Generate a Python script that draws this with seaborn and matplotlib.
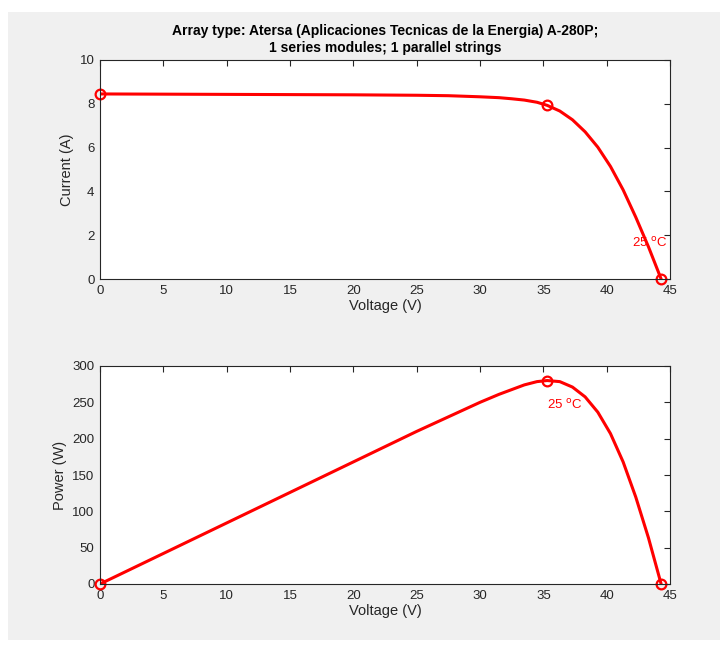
import matplotlib
matplotlib.use("Agg")
import matplotlib.pyplot as plt
import seaborn as sns
import pandas as pd
from matplotlib.patches import Rectangle

# values (I-V and P-V curve at 25 C)
voltage = [0, 5, 10, 15, 20, 25, 27.5, 30, 31.5, 32.5, 33.5, 34.5, 35.3, 36.3,
           37.3, 38.3, 39.3, 40.3, 41.3, 42.3, 43.3, 44.3]
current = [8.45, 8.44, 8.43, 8.42, 8.41, 8.39, 8.37, 8.32, 8.28, 8.23, 8.17, 8.07, 7.93, 7.67,
           7.27, 6.72, 6.02, 5.14, 4.07, 2.82, 1.47, 0]
power = [0, 42, 84, 126, 168, 210, 230, 250, 261, 267.5, 274, 278.5, 280, 278.5,
         271, 257.5, 236.5, 207, 168, 119.5, 63.5, 0]

# key points (Isc, MPP, Voc)
mark_v = [0, 35.3, 44.3]
mark_i = [8.45, 7.93, 0]
mark_p = [0, 280, 0]

temp_label = "25 $^{\\mathrm{o}}$C"
title = ("Array type: Atersa (Aplicaciones Tecnicas de la Energia) A-280P;\n"
         "1 series modules; 1 parallel strings")

sns.set_style("white")
plt.rcParams["font.family"] = ["Liberation Sans", "DejaVu Sans"]

df = pd.DataFrame({"V": voltage, "I": current, "P": power})

fig = plt.figure(figsize=(7.25, 6.48), dpi=100)
fig.patch.set_facecolor("white")
fig.patches.append(Rectangle((8 / 725, 1 - 640 / 648), 712 / 725, 628 / 648,
                             transform=fig.transFigure, facecolor="#f0f0f0",
                             edgecolor="none", zorder=-10))

ax1 = fig.add_axes([100 / 725, 1 - 279 / 648, 570 / 725, 219 / 648])
ax2 = fig.add_axes([100 / 725, 1 - 584 / 648, 570 / 725, 218 / 648])

red = "#ff0000"
dark = "#262626"

sns.lineplot(data=df, x="V", y="I", ax=ax1, color=red, linewidth=2.2,
             sort=False, estimator=None)
ax1.plot(mark_v, mark_i, "o", mfc="none", mec=red, mew=1.6, ms=7, clip_on=False)
sns.lineplot(data=df, x="V", y="P", ax=ax2, color=red, linewidth=2.2,
             sort=False, estimator=None)
ax2.plot(mark_v, mark_p, "o", mfc="none", mec=red, mew=1.6, ms=7, clip_on=False)

ax1.text(44.8, 1.65, temp_label, color=red, fontsize=9.5, ha="right", va="center")
ax2.text(35.3, 247, temp_label, color=red, fontsize=9.5, ha="left", va="center")

ax1.set_ylim(0, 10)
ax1.set_yticks([0, 2, 4, 6, 8, 10])
ax2.set_ylim(0, 300)
ax2.set_yticks(range(0, 301, 50))
ax1.set_ylabel("Current (A)", fontsize=10.5, color=dark)
ax2.set_ylabel("Power (W)", fontsize=10.5, color=dark)

for ax in (ax1, ax2):
    ax.set_facecolor("white")
    ax.set_xlim(0, 45)
    ax.set_xticks(range(0, 46, 5))
    ax.set_xlabel("Voltage (V)", fontsize=10.5, color=dark, labelpad=2)
    ax.tick_params(direction="in", length=4, width=0.8, colors=dark,
                   labelsize=9.5, top=True, right=True, pad=4)
    for s in ax.spines.values():
        s.set_visible(True)
        s.set_color(dark)
        s.set_linewidth(0.8)

ax1.set_title(title, fontsize=10, fontweight="bold", color="black", pad=6,
              linespacing=1.25)

fig.savefig("out.png", dpi=100, facecolor=fig.get_facecolor())
